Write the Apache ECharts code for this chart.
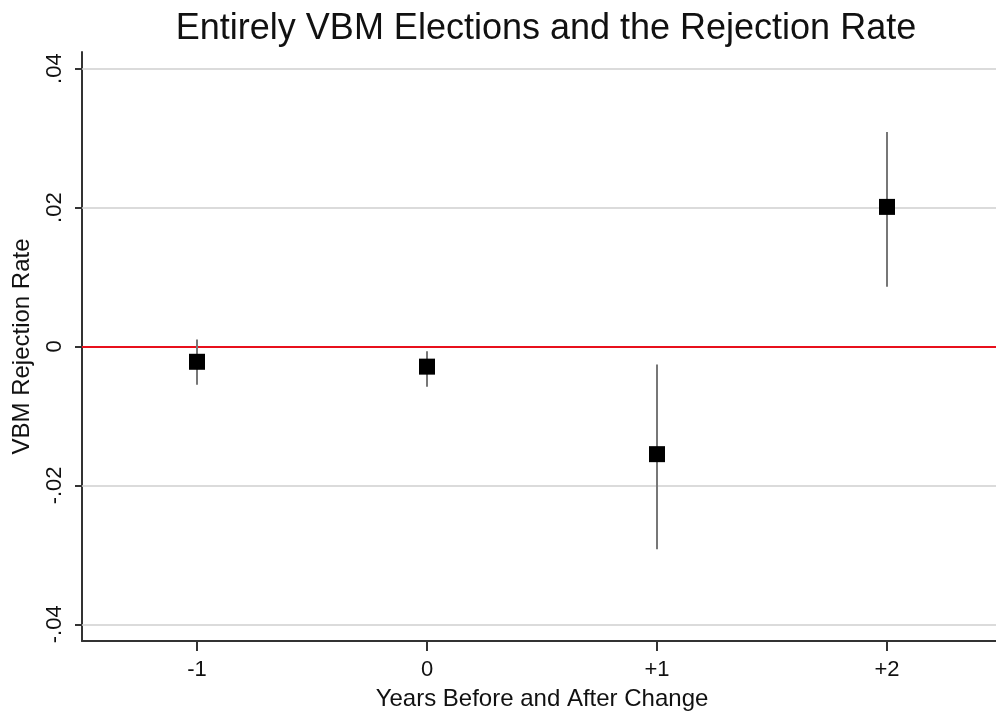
<!DOCTYPE html>
<html><head><meta charset="utf-8">
<script src="https://cdn.jsdelivr.net/npm/echarts@6/dist/echarts.min.js"></script>
<style>html,body{margin:0;padding:0;background:#fff}#c{width:996px;height:713px}</style>
</head><body><div id="c"></div>
<script>
const categories = [-1, 0, 1, 2];
const xTickLabels = ['-1', '0', '+1', '+2'];
const estimates = [-0.0022, -0.0029, -0.0155, 0.0201];
const ciLow = [-0.0055, -0.0058, -0.0292, 0.0086];
const ciHigh = [0.0010, -0.0007, -0.0026, 0.0309];
const yTicks = [-0.04, -0.02, 0, 0.02, 0.04];
const yTickLabels = ['-.04', '-.02', '0', '.02', '.04'];

const font = 'Liberation Sans, Arial, Helvetica, sans-serif';
const chart = echarts.init(document.getElementById('c'), null, {renderer: 'canvas'});
chart.setOption({
  animation: false,
  backgroundColor: '#fff',
  title: {
    text: 'Entirely VBM Elections and the Rejection Rate',
    left: 541, top: 6, textAlign: 'center',
    textStyle: {fontFamily: font, fontSize: 36, fontWeight: 'normal', color: '#111'}
  },
  grid: {left: 82, right: -6, top: 52, bottom: 72, containLabel: false, outerBoundsMode: 'none'},
  xAxis: {
    type: 'value', min: -1.5, max: 2.5,
    name: 'Years Before and After Change', nameLocation: 'middle', nameGap: 46,
    nameTextStyle: {fontFamily: font, fontSize: 24, color: '#111'},
    axisLine: {show: true, onZero: false, lineStyle: {color: '#333', width: 2}},
    axisTick: {show: true, customValues: categories, length: 10, lineStyle: {color: '#333', width: 2}},
    axisLabel: {customValues: categories, margin: 18, fontFamily: font, fontSize: 22, color: '#111',
      formatter: v => xTickLabels[categories.indexOf(v)]},
    splitLine: {show: false}
  },
  yAxis: {
    type: 'value', min: -0.0424, max: 0.0424,
    name: 'VBM Rejection Rate', nameLocation: 'middle', nameGap: 48, nameRotate: 90,
    nameTextStyle: {fontFamily: font, fontSize: 24, color: '#111'},
    axisLine: {show: true, onZero: false, lineStyle: {color: '#333', width: 2}},
    axisTick: {show: true, customValues: yTicks, length: 7, lineStyle: {color: '#333', width: 2}},
    axisLabel: {customValues: yTicks, rotate: 90, margin: 16, fontFamily: font, fontSize: 22, color: '#111',
      formatter: v => yTickLabels[yTicks.findIndex(t => Math.abs(t - v) < 1e-9)]},
    splitLine: {show: false}
  },
  series: [
    {
      type: 'line', data: [], silent: true, z: 1,
      markLine: {
        silent: true, symbol: 'none', label: {show: false}, animation: false, z: 1,
        data: yTicks.map(t => ({
          yAxis: t,
          lineStyle: t === 0 ? {color: '#e8101c', width: 2, type: 'solid'} : {color: '#cfcfcf', width: 1.5, type: 'solid'}
        }))
      }
    },
    {
      type: 'custom', z: 3, silent: true,
      data: categories.map((c, i) => [c, ciLow[i], ciHigh[i]]),
      renderItem: (params, api) => {
        const a = api.coord([api.value(0), api.value(1)]);
        const b = api.coord([api.value(0), api.value(2)]);
        return {type: 'line', shape: {x1: a[0], y1: a[1], x2: b[0], y2: b[1]},
          style: {stroke: '#777', lineWidth: 2}};
      }
    },
    {
      type: 'scatter', symbol: 'rect', symbolSize: 16, z: 4, silent: true,
      data: categories.map((c, i) => [c, estimates[i]]),
      itemStyle: {color: '#000', opacity: 1}
    }
  ]
});
</script></body></html>
